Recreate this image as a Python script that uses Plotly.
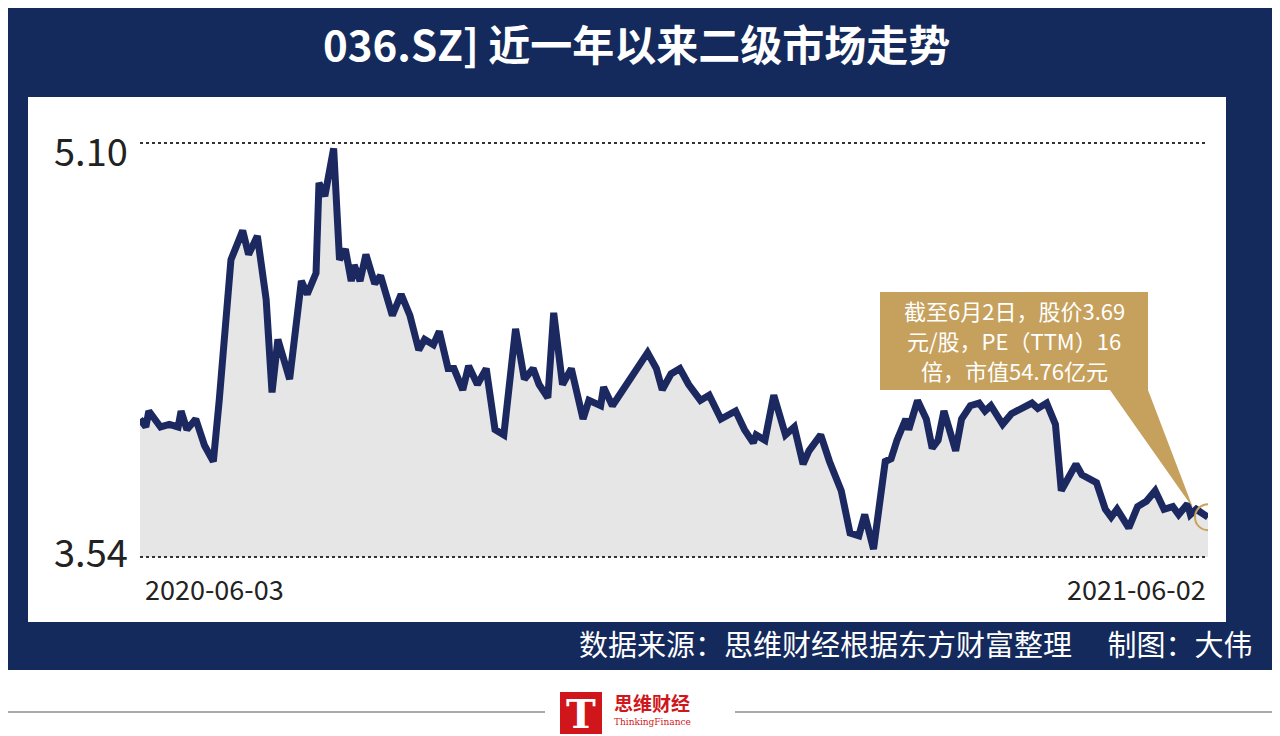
import plotly.graph_objects as go
import pandas as pd

day_offsets = [0,2,3,7,10,13,14,16,19,22,25,27,31,35,37,40,43,45,47,51,55,57,60,61,63,66,68,70,72,73,75,77,80,82,86,89,92,95,97,100,102,105,107,110,112,115,118,121,124,128,131,134,136,139,141,144,147,151,153,157,158,161,164,167,170,173,176,178,181,184,187,191,194,198,203,206,209,210,213,216,220,223,226,228,232,235,239,242,245,247,250,254,256,258,261,262,265,268,270,272,274,278,280,283,286,288,290,294,297,300,304,306,309,312,314,316,319,321,326,329,331,333,337,340,343,346,349,352,354,357,358,360,364]
prices = [4.06,4.03,4.09,4.03,4.04,4.03,4.09,4.02,4.06,3.96,3.90,4.13,4.66,4.77,4.68,4.75,4.51,4.16,4.36,4.21,4.58,4.53,4.61,4.95,4.90,5.08,4.66,4.70,4.58,4.64,4.58,4.68,4.57,4.60,4.45,4.53,4.45,4.32,4.36,4.34,4.39,4.25,4.25,4.17,4.26,4.19,4.25,4.02,4.00,4.40,4.21,4.25,4.19,4.14,4.46,4.19,4.25,4.06,4.13,4.11,4.18,4.11,4.16,4.21,4.25,4.31,4.25,4.17,4.23,4.25,4.19,4.13,4.15,4.06,4.09,4.02,3.97,4.00,3.98,4.15,4.00,4.03,3.89,3.94,4.00,3.90,3.79,3.63,3.62,3.70,3.57,3.90,3.91,3.98,4.06,4.02,4.13,4.06,3.95,3.98,4.09,3.94,4.06,4.11,4.12,4.09,4.11,4.04,4.08,4.10,4.12,4.10,4.12,4.04,3.79,3.83,3.89,3.85,3.82,3.72,3.69,3.72,3.65,3.73,3.75,3.79,3.72,3.73,3.70,3.74,3.70,3.72,3.69]
y_ticks = [3.54, 5.10]
x_labels = ["2020-06-03", "2021-06-02"]
title = "036.SZ] 近一年以来二级市场走势"
note_lines = ["截至6月2日，股价3.69", "元/股，PE（TTM）16", "倍，市值54.76亿元"]
source = "数据来源：思维财经根据东方财富整理　 制图：大伟"

dates = pd.Timestamp("2020-06-03") + pd.to_timedelta(day_offsets, unit="D")
NAVY = "#142a5c"
FONT = "Noto Sans CJK SC"
OFF = 8  # page offset

fig = go.Figure()
fig.add_trace(go.Scatter(x=dates, y=prices, mode="lines", fill="tozeroy",
                         fillcolor="#e6e6e6", line=dict(color="#1c2960", width=7),
                         hoverinfo="skip"))
fig.add_trace(go.Scatter(x=[dates[-1]], y=[prices[-1]], mode="markers",
                         marker=dict(size=26, color="rgba(0,0,0,0)", line=dict(color="#c9a35e", width=2)),
                         hoverinfo="skip"))

def px(x): return (x-140)/1068
def py(y): return (557-y)/414
shapes = [
    dict(type="rect", xref="paper", yref="paper", x0=px(-20), x1=px(1300), y0=py(670), y1=py(-20), fillcolor=NAVY, line_width=0, layer="below"),
    dict(type="rect", xref="paper", yref="paper", x0=px(28), x1=px(1226), y0=py(622), y1=py(97), fillcolor="white", line_width=0, layer="below"),
    dict(type="line", xref="paper", yref="paper", x0=px(140), x1=px(1208), y0=py(143), y1=py(143), line=dict(color="#333", width=2, dash="dot")),
    dict(type="line", xref="paper", yref="paper", x0=px(140), x1=px(1208), y0=py(557), y1=py(557), line=dict(color="#333", width=2, dash="dot")),
    dict(type="rect", xref="paper", yref="paper", x0=px(880), x1=px(1148), y0=py(390), y1=py(292), fillcolor="#c6a15d", line_width=0),
    dict(type="path", xref="paper", yref="paper",
         path=f"M {px(1110)},{py(390)} L {px(1148)},{py(390)} L {px(1193)},{py(508)} Z",
         fillcolor="#c6a15d", line_width=0),
    dict(type="line", xref="paper", yref="paper", x0=px(-20), x1=px(545), y0=py(712), y1=py(712), line=dict(color="#aaa", width=2)),
    dict(type="line", xref="paper", yref="paper", x0=px(735), x1=px(1300), y0=py(712), y1=py(712), line=dict(color="#aaa", width=2)),
    dict(type="rect", xref="paper", yref="paper", x0=px(560), x1=px(602), y0=py(734), y1=py(692), fillcolor="#d0161b", line_width=0),
]
ann = [
    dict(text="<b>"+title+"</b>", x=px(636), y=py(42), font=dict(size=42, color="white", family=FONT)),
    dict(text=f"{y_ticks[1]:.2f}", x=px(130), y=py(150), xanchor="right", font=dict(size=38, color="#222", family=FONT)),
    dict(text=f"{y_ticks[0]:.2f}", x=px(130), y=py(550), xanchor="right", font=dict(size=38, color="#222", family=FONT)),
    dict(text=x_labels[0], x=px(143), y=py(588), xanchor="left", font=dict(size=27, color="#222", family=FONT)),
    dict(text=x_labels[1], x=px(1208), y=py(588), xanchor="right", font=dict(size=27, color="#222", family=FONT)),
    dict(text=source, x=px(1255), y=py(643), xanchor="right", font=dict(size=29, color="white", family=FONT)),
    dict(text="<b>T</b>", x=px(581), y=py(713), font=dict(size=40, color="white", family="DejaVu Serif")),
    dict(text="<b>思维财经</b>", x=px(612), y=py(702), xanchor="left", font=dict(size=19, color="#d0161b", family=FONT)),
    dict(text="ThinkingFinance", x=px(612), y=py(722), xanchor="left", font=dict(size=9, color="#d0161b", family="DejaVu Serif")),
]
for i, line in enumerate(note_lines):
    ann.append(dict(text=line, x=px(1014), y=py(310 + 30*i), font=dict(size=22, color="white", family=FONT)))
for a in ann:
    a.setdefault("xanchor", "center")
    a.update(xref="paper", yref="paper", showarrow=False, yanchor="middle")

fig.update_layout(width=1280, height=736, margin=dict(l=140-OFF, r=72+OFF, t=143-OFF, b=179+OFF),
                  paper_bgcolor="white", plot_bgcolor="rgba(0,0,0,0)", showlegend=False,
                  shapes=shapes, annotations=ann,
                  xaxis=dict(range=[dates[0], dates[-1]], showgrid=False, showticklabels=False, zeroline=False),
                  yaxis=dict(range=y_ticks, showgrid=False, showticklabels=False, zeroline=False))
fig.write_html("out.html")
